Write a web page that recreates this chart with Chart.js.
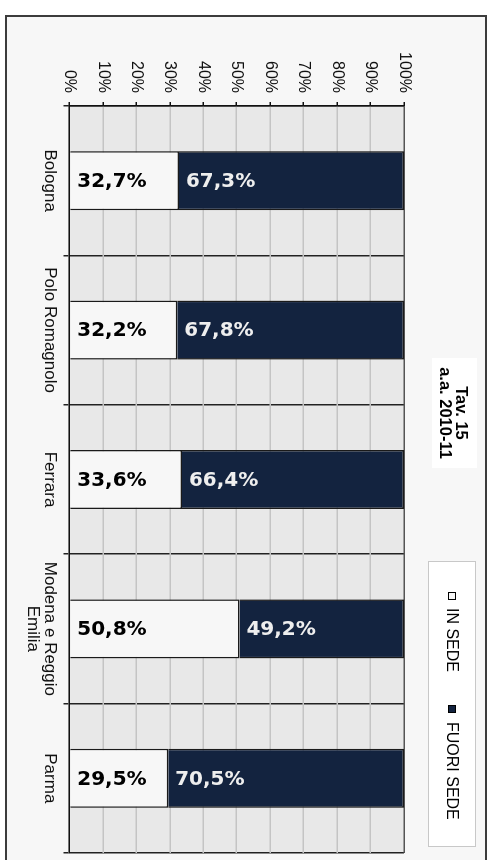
<!DOCTYPE html>
<html>
<head>
<meta charset="utf-8">
<script src="https://cdn.jsdelivr.net/npm/chart.js@4/dist/chart.umd.min.js"></script>
<style>
  html, body { margin: 0; padding: 0; background: #fff; overflow: hidden; }
  body { width: 488px; height: 860px; position: relative; }
  /* the whole chart is laid out as a column chart, then turned 90deg clockwise */
  #rot {
    position: absolute; left: 0; top: 0;
    width: 860px; height: 488px;
    transform-origin: 0 0;
    transform: translate(488px, 0) rotate(90deg);
    overflow: hidden;
  }
  #frame {
    position: absolute; left: 15px; top: 1px;
    width: 900px; height: 482px; box-sizing: border-box;
    border: 2px solid #3c3c3c; background: #f7f7f7;
  }
  #chart { position: absolute; left: 0; top: 0; }
  #title {
    position: absolute; left: 358px; top: 11px;
    width: 110px; height: 45px; box-sizing: border-box;
    padding-top: 7px; background: #fff;
    font: bold 16.5px "Liberation Sans", Arial, sans-serif;
    line-height: 16px; text-align: center; color: #000;
  }
  #legend {
    position: absolute; left: 561px; top: 12px;
    width: 286px; height: 48px; box-sizing: border-box;
    background: #fff; border: 1.5px solid #c8c8c8;
    font: 16px "Liberation Sans", Arial, sans-serif; color: #000;
  }
  .sw { position: absolute; top: 18.5px; width: 8px; height: 8px; box-sizing: border-box; border: 1.5px solid #000; }
  .lt { position: absolute; top: 14.5px; line-height: 16px; white-space: nowrap; }
</style>
</head>
<body>
<div id="rot">
  <div id="frame"></div>
  <canvas id="chart" width="860" height="488"></canvas>
  <div id="title">Tav. 15<br>a.a. 2010-11</div>
  <div id="legend">
    <div class="sw" style="left:30px;background:#f7f7f7"></div>
    <div class="lt" style="left:46px">IN SEDE</div>
    <div class="sw" style="left:143px;background:#13233f"></div>
    <div class="lt" style="left:160px">FUORI SEDE</div>
  </div>
</div>
<script>
const categories = ['Bologna', 'Polo Romagnolo', 'Ferrara', ['Modena e Reggio', 'Emilia'], 'Parma'];
const inSede = [32.7, 32.2, 33.6, 50.8, 29.5];
const fuoriSede = [67.3, 67.8, 66.4, 49.2, 70.5];
const valueTicks = [0, 10, 20, 30, 40, 50, 60, 70, 80, 90, 100];

const labelColors = ['#000000', '#eeeeee'];

// plot background
const plotBg = {
    id: 'plotBg',
    beforeDraw(chart) {
        const { ctx, chartArea: a } = chart;
        ctx.save();
        ctx.fillStyle = '#e8e8e8';
        ctx.fillRect(a.left, a.top, a.right - a.left, a.bottom - a.top);
        ctx.restore();
    }
};

// value labels, written turned back so they read level once the page is rotated
const valueLabels = {
    id: 'valueLabels',
    afterDatasetsDraw(chart) {
        const ctx = chart.ctx;
        chart.data.datasets.forEach((ds, i) => {
            const meta = chart.getDatasetMeta(i);
            meta.data.forEach((bar, j) => {
                const txt = ds.data[j].toFixed(1).replace('.', ',') + '%';
                ctx.save();
                ctx.translate(bar.x, bar.base - 7);
                ctx.rotate(-Math.PI / 2);
                ctx.font = 'bold 20px "DejaVu Sans", Verdana, sans-serif';
                ctx.fillStyle = labelColors[i];
                ctx.textAlign = 'left';
                ctx.textBaseline = 'middle';
                ctx.fillText(txt, 0, 1);
                ctx.restore();
            });
        });
    }
};

new Chart(document.getElementById('chart'), {
    type: 'bar',
    data: {
        labels: categories,
        datasets: [
            {
                label: 'IN SEDE',
                data: inSede,
                backgroundColor: '#f7f7f7',
                borderColor: '#1a1a1a',
                borderWidth: 1.5
            },
            {
                label: 'FUORI SEDE',
                data: fuoriSede,
                backgroundColor: '#13233f',
                borderColor: '#1a1a1a',
                borderWidth: 1.5
            }
        ]
    },
    options: {
        responsive: false,
        animation: false,
        devicePixelRatio: 1,
        layout: { padding: { left: 0, top: 84, right: 7, bottom: 0 } },
        categoryPercentage: 1,
        barPercentage: 0.395,
        plugins: {
            legend: { display: false },
            title: { display: false },
            tooltip: { enabled: false }
        },
        scales: {
            x: {
                stacked: true,
                afterFit: (s) => { s.height = 69.5; },
                grid: {
                    offset: true,
                    color: '#222',
                    lineWidth: 1.5,
                    tickLength: 6,
                    tickColor: '#222'
                },
                border: { color: '#111', width: 1.5 },
                ticks: {
                    autoSkip: false,
                    maxRotation: 0,
                    padding: 5,
                    color: '#111',
                    font: { family: '"Liberation Sans", Arial, sans-serif', size: 17, lineHeight: 1.0 }
                }
            },
            y: {
                stacked: true,
                min: 0,
                max: 100,
                afterFit: (s) => { s.width = 106; },
                afterBuildTicks: (s) => { s.ticks = valueTicks.map(v => ({ value: v })); },
                grid: {
                    color: (c) => (c.tick && c.tick.value === 100 ? '#555' : '#c4c4c4'),
                    lineWidth: 1.5,
                    tickLength: 4,
                    tickColor: '#111'
                },
                border: { color: '#111', width: 1.5 },
                ticks: {
                    padding: 9,
                    color: '#111',
                    callback: (v) => v + '%',
                    font: { family: '"Liberation Sans", Arial, sans-serif', size: 16 }
                }
            }
        }
    },
    plugins: [plotBg, valueLabels]
});
</script>
</body>
</html>
